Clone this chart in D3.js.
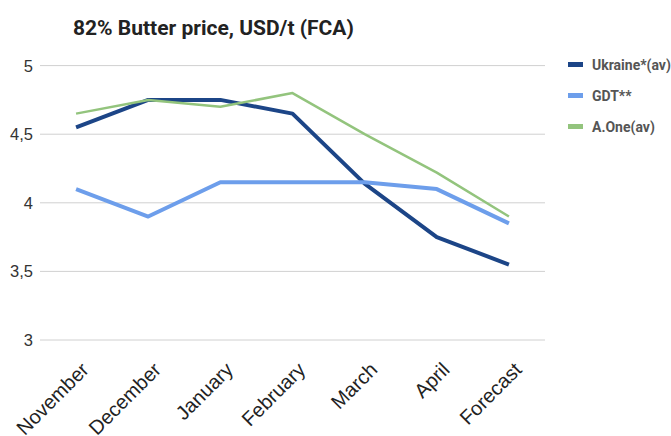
<!DOCTYPE html>
<html>
<head>
<meta charset="utf-8">
<script src="https://cdn.jsdelivr.net/npm/d3@7"></script>
<style>
  body { margin: 0; background: #fff; }
  svg { display: block; }
</style>
</head>
<body>
<div id="chart"></div>
<script>
// data
const months = ["November", "December", "January", "February", "March", "April", "Forecast"];
const ukraine = [4.55, 4.75, 4.75, 4.65, 4.14, 3.75, 3.55];
const gdt = [4.1, 3.9, 4.15, 4.15, 4.15, 4.1, 3.85];
const aOne = [4.65, 4.75, 4.7, 4.8, 4.5, 4.22, 3.9];
const yTicks = [3, 3.5, 4, 4.5, 5];
const seriesNames = ["Ukraine*(av)", "GDT**", "A.One(av)"];

const series = [
  { name: seriesNames[0], values: ukraine, color: "#1c4587", width: 4 },
  { name: seriesNames[1], values: gdt, color: "#6d9eeb", width: 4 },
  { name: seriesNames[2], values: aOne, color: "#93c47d", width: 2.5 }
];

const width = 671;
const height = 436;

const svg = d3.select("#chart")
  .append("svg")
  .attr("width", width)
  .attr("height", height);

const x = d3.scalePoint()
  .domain(months)
  .range([40, 545])
  .padding(0.5);

const y = d3.scaleLinear()
  .domain([3, 5])
  .range([340, 65.6]);

// title
svg.append("text")
  .attr("x", 73)
  .attr("y", 35)
  .attr("font-family", "Roboto, sans-serif")
  .attr("font-weight", "bold")
  .attr("font-size", "21px")
  .attr("fill", "#222")
  .text("82% Butter price, USD/t (FCA)");

// gridlines
svg.append("g")
  .selectAll("line")
  .data(yTicks)
  .enter()
  .append("line")
  .attr("x1", 40)
  .attr("x2", 545)
  .attr("y1", d => y(d))
  .attr("y2", d => y(d))
  .attr("stroke", "#d0d0d0")
  .attr("stroke-width", 1);

// y labels
svg.append("g")
  .selectAll("text")
  .data(yTicks)
  .enter()
  .append("text")
  .attr("x", 33)
  .attr("y", d => y(d) + 6)
  .attr("text-anchor", "end")
  .attr("font-family", "Liberation Sans, Arial, sans-serif")
  .attr("font-size", "16.5px")
  .attr("fill", "#333")
  .text(d => String(d).replace(".", ","));

// x labels, rotated
svg.append("g")
  .selectAll("text")
  .data(months)
  .enter()
  .append("text")
  .attr("transform", d => `translate(${x(d) + 14},${371}) rotate(-45)`)
  .attr("text-anchor", "end")
  .attr("font-family", "Liberation Sans, Arial, sans-serif")
  .attr("font-size", "20px")
  .attr("fill", "#222")
  .text(d => d);

const line = d3.line()
  .x((d, i) => x(months[i]))
  .y(d => y(d));

// lines
svg.append("g")
  .selectAll("path")
  .data(series)
  .enter()
  .append("path")
  .attr("d", d => line(d.values))
  .attr("fill", "none")
  .attr("stroke", d => d.color)
  .attr("stroke-width", d => d.width)
  .attr("stroke-linejoin", "round");

// legend
const legend = svg.append("g")
  .selectAll("g")
  .data(series)
  .enter()
  .append("g")
  .attr("transform", (d, i) => `translate(568,${64.5 + i * 31})`);

legend.append("rect")
  .attr("x", 0)
  .attr("y", -2.5)
  .attr("width", 15)
  .attr("height", 5)
  .attr("fill", d => d.color);

legend.append("text")
  .attr("x", 24)
  .attr("y", 5)
  .attr("font-family", "Roboto, sans-serif")
  .attr("font-weight", "bold")
  .attr("font-size", "14px")
  .attr("fill", "#555")
  .text(d => d.name);
</script>
</body>
</html>
